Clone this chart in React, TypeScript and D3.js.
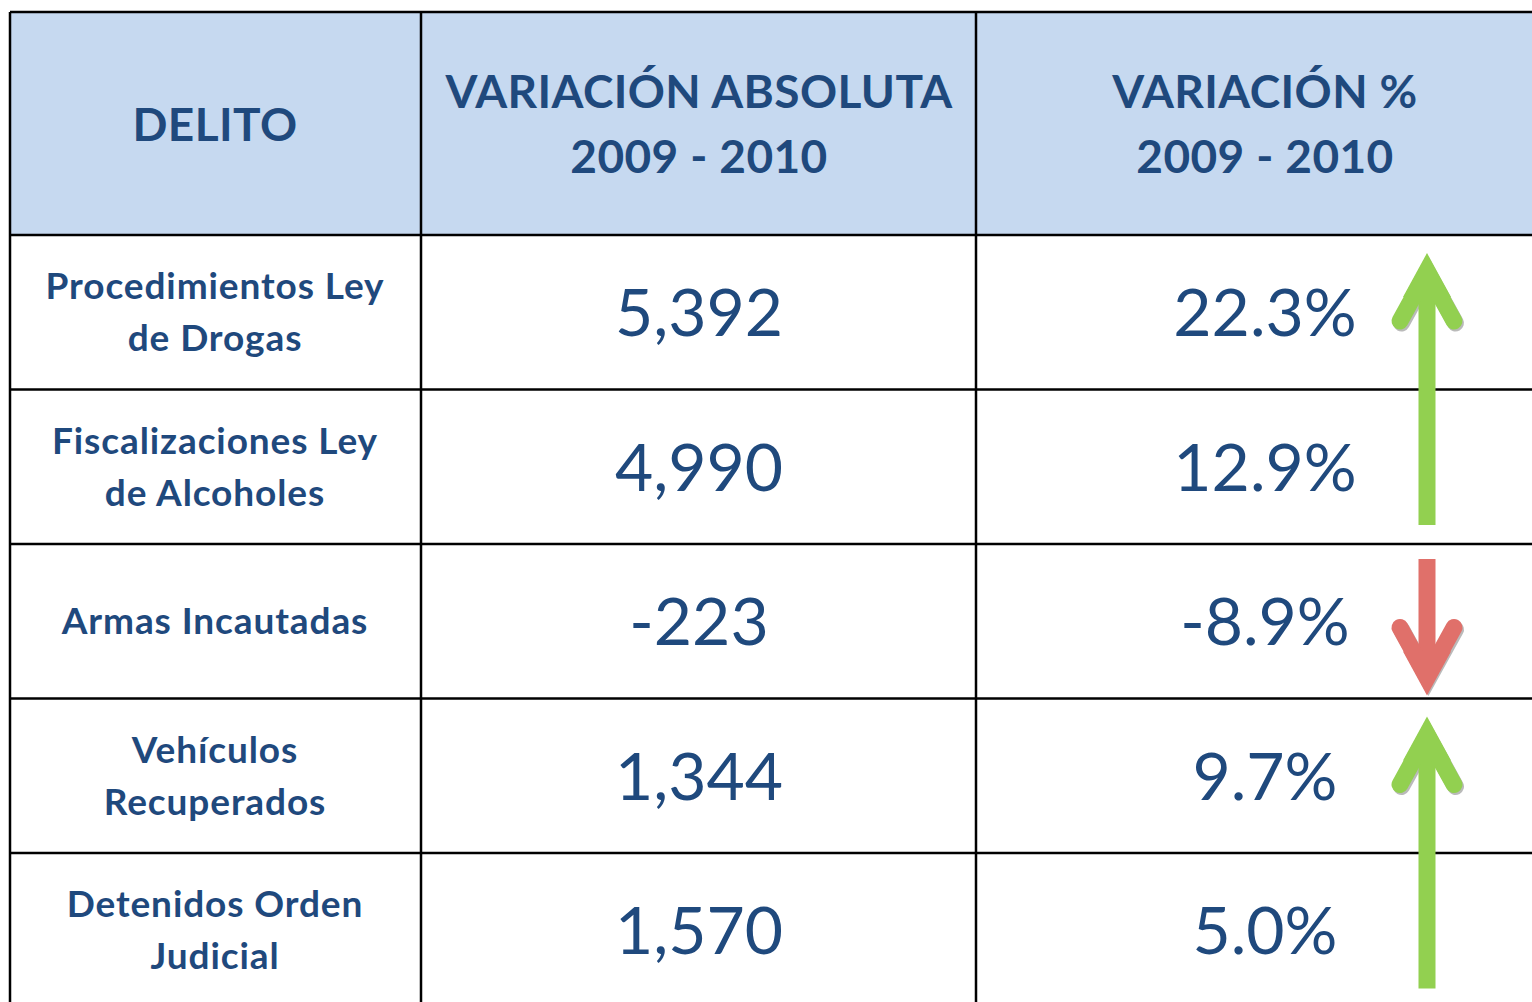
import React from "react";
import * as d3 from "d3";

const headers: string[][] = [["DELITO"], ["VARIACIÓN ABSOLUTA", "2009 - 2010"], ["VARIACIÓN %", "2009 - 2010"]];
const delitos: string[][] = [
  ["Procedimientos Ley", "de Drogas"],
  ["Fiscalizaciones Ley", "de Alcoholes"],
  ["Armas Incautadas"],
  ["Vehículos", "Recuperados"],
  ["Detenidos Orden", "Judicial"],
];
const absVar: number[] = [5392, 4990, -223, 1344, 1570];
const pctVar: number[] = [22.3, 12.9, -8.9, 9.7, 5.0];

const W = 1532, H = 1002;
const FONT = "Lato, 'Open Sans', sans-serif";
const BLUE = "#1F497D";

const locale = d3.formatLocale({ decimal: ".", thousands: ",", grouping: [3], currency: ["$", ""], minus: "-" });

export default function App() {
  const colX = [10, 421, 976, 1540];
  const headerTop = 12, headerBottom = 235;
  const rowH = 154.5;
  const y = d3.scaleLinear().domain([0, delitos.length]).range([headerBottom, headerBottom + rowH * delitos.length]);
  const colCenter = [215, 699, 1265];
  const arrowX = 1427;
  const fmtAbs = locale.format(",");
  const fmtPct = (v: number) => locale.format(".1f")(v) + "%";

  const groups: { start: number; end: number; up: boolean }[] = [];
  pctVar.forEach((v, i) => {
    const up = v >= 0;
    const last = groups[groups.length - 1];
    if (last && last.up === up) last.end = i;
    else groups.push({ start: i, end: i, up });
  });

  const arrow = (g: { start: number; end: number; up: boolean }, k: number) => {
    const top = y(g.start) + (g.up ? 18 : 15);
    const bottom = y(g.end + 1) - (g.up ? 19 : 3);
    const color = g.up ? "#92D050" : "#E0706A";
    const tipY = g.up ? top : bottom;
    const tailY = g.up ? bottom : top;
    const dir = g.up ? 1 : -1;
    const barbY = tipY + dir * 68;
    const half = 27;
    const shaftW = 17;
    const chevron = `M${arrowX - half},${barbY} L${arrowX},${tipY + dir * 19} L${arrowX + half},${barbY}`;
    const shaftStart = tipY + dir * 25;
    return (
      <g key={k}>
        <g transform="translate(1.5,2)" opacity={0.45}>
          <path d={chevron} stroke="#666" strokeWidth={17} strokeLinecap="round" strokeLinejoin="miter" fill="none" />
        </g>
        <rect x={arrowX - shaftW / 2} y={Math.min(shaftStart, tailY)} width={shaftW}
          height={Math.abs(tailY - shaftStart)} fill={color} />
        <path d={chevron} stroke={color} strokeWidth={17} strokeLinecap="round" strokeLinejoin="miter" fill="none" />
        <path d={`M${arrowX},${tipY} L${arrowX + 24},${tipY + dir * 44} L${arrowX - 24},${tipY + dir * 44} Z`} fill={color} />
      </g>
    );
  };

  return (
    <svg width={W} height={H} style={{ position: "absolute", left: 0, top: 0, background: "#fff" }}>
      <rect x={colX[0]} y={headerTop} width={colX[3] - colX[0]} height={headerBottom - headerTop} fill="#C6D9F0" />
      {headers.map((lines, c) =>
        lines.map((t, li) => (
          <text key={`h${c}${li}`} x={colCenter[c]} y={lines.length === 1 ? 141 : 108 + li * 65}
            textAnchor="middle" fontFamily={FONT} fontWeight={700} fontSize={46} letterSpacing={0.4} fill={BLUE}>{t}</text>
        ))
      )}
      {delitos.map((lines, r) => {
        const cy = (y(r) + y(r + 1)) / 2;
        return (
          <g key={r}>
            {lines.map((t, li) => (
              <text key={li} x={colCenter[0]} y={cy + 13 + (li - (lines.length - 1) / 2) * 52}
                textAnchor="middle" fontFamily={FONT} fontWeight={700} fontSize={37} letterSpacing={0.9} fill={BLUE}>{t}</text>
            ))}
            <text x={colCenter[1]} y={cy + 24} textAnchor="middle" fontFamily={FONT} fontSize={66} fill={BLUE}>{fmtAbs(absVar[r])}</text>
            <text x={colCenter[2]} y={cy + 24} textAnchor="middle" fontFamily={FONT} fontSize={66} fill={BLUE}>{fmtPct(pctVar[r])}</text>
          </g>
        );
      })}
      {d3.range(delitos.length + 1).map((i) => (
        <line key={`r${i}`} x1={colX[0]} x2={colX[3]} y1={y(i)} y2={y(i)} stroke="#000" strokeWidth={2.5} />
      ))}
      <line x1={colX[0]} x2={colX[3]} y1={headerTop} y2={headerTop} stroke="#000" strokeWidth={2.5} />
      {colX.slice(0, 3).map((x, i) => (
        <line key={`c${i}`} x1={x} x2={x} y1={headerTop} y2={H + 10} stroke="#000" strokeWidth={2.5} />
      ))}
      {groups.map(arrow)}
    </svg>
  );
}
